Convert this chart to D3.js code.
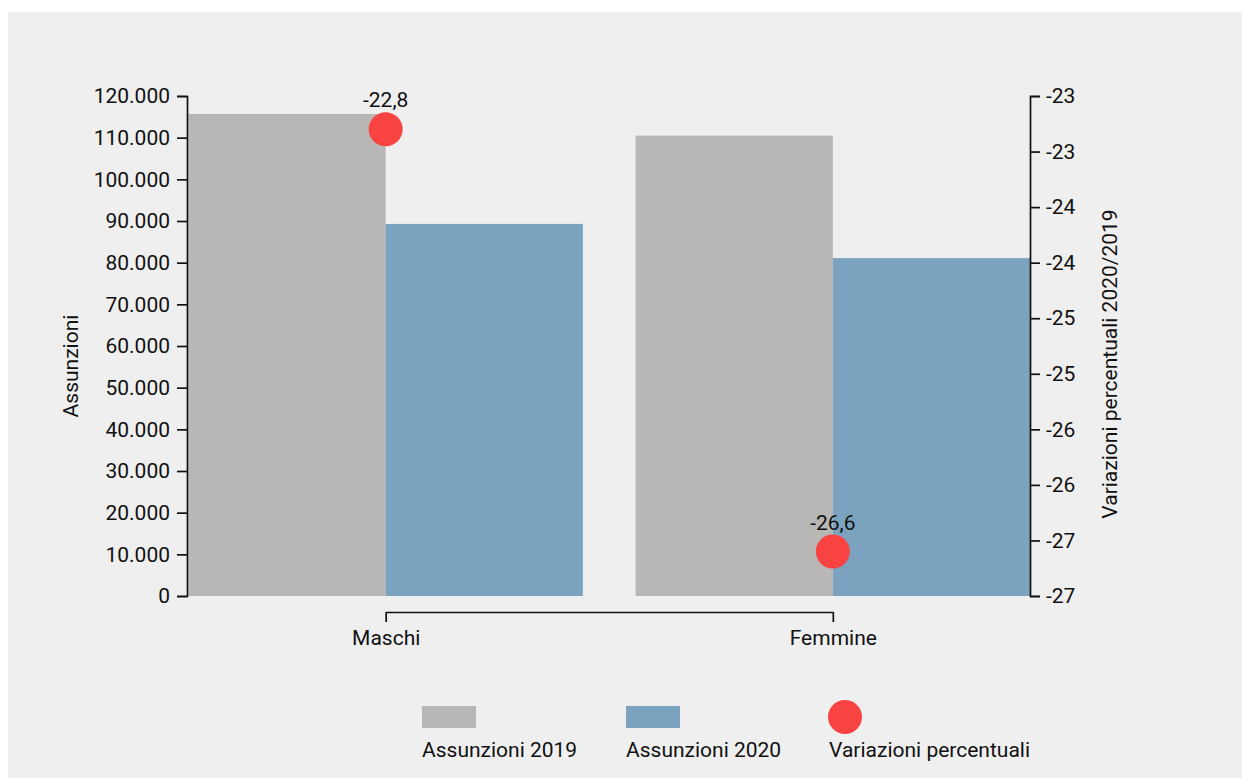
<!DOCTYPE html>
<html>
<head>
<meta charset="utf-8">
<script src="https://cdn.jsdelivr.net/npm/d3@7"></script>
<style>
  html, body { margin: 0; padding: 0; background: #ffffff; }
  svg { display: block; font-family: Roboto, "Noto Sans", sans-serif; }
</style>
</head>
<body>
<svg id="chart" width="1242" height="778"></svg>
<script>
// Assunzioni per genere, 2019 e 2020, con variazione percentuale
const categories = ["Maschi", "Femmine"];
const assunzioni2019 = [115700, 110500];
const assunzioni2020 = [89300, 81100];
const variazioni = [-22.8, -26.6];
const seriesNames = ["Assunzioni 2019", "Assunzioni 2020", "Variazioni percentuali"];
const leftTicks = d3.range(0, 120001, 10000);
const rightTicks = d3.range(-27, -22.49, 0.5);

const colors = { y2019: "#b8b7b5", y2020: "#7ba3bf", dot: "#f94343", bg: "#efefef", ink: "#111111" };
const FONT = 21;
const STROKE = 1.7;

const svg = d3.select("#chart");

// panel background
svg.append("rect").attr("x", 8).attr("y", 12).attr("width", 1234).attr("height", 766).attr("fill", colors.bg);

const plot = { left: 187, right: 1030, top: 96, bottom: 596 };

const x = d3.scaleBand().domain(categories).range([188.5, plot.right]).paddingInner(0.118).paddingOuter(0);
const xSeries = d3.scaleBand().domain(["2019", "2020"]).range([0, x.bandwidth()]);
const y = d3.scaleLinear().domain([0, 120000]).range([plot.bottom, plot.top]);
const y2 = d3.scaleLinear().domain([-27, -22.5]).range([plot.bottom, plot.top]);

const itFmt = d3.formatLocale({ decimal: ",", thousands: ".", grouping: [3], currency: ["", "€"], minus: "-" });
const fmtThousands = itFmt.format(",.0f");
const fmtInt = itFmt.format(".0f");
const fmtOne = itFmt.format(".1f");

// bars
const rows = categories.map((c, i) => ({ cat: c, v2019: assunzioni2019[i], v2020: assunzioni2020[i], pct: variazioni[i] }));
const bars = svg.append("g");
rows.forEach(r => {
  bars.append("rect")
    .attr("x", x(r.cat) + xSeries("2019"))
    .attr("y", y(r.v2019))
    .attr("width", xSeries.bandwidth())
    .attr("height", y(0) - y(r.v2019))
    .attr("fill", colors.y2019);
  bars.append("rect")
    .attr("x", x(r.cat) + xSeries("2020"))
    .attr("y", y(r.v2020))
    .attr("width", xSeries.bandwidth())
    .attr("height", y(0) - y(r.v2020))
    .attr("fill", colors.y2020);
});

function styleAxis(g) {
  g.selectAll("path, line").attr("stroke", colors.ink).attr("stroke-width", STROKE);
  g.selectAll("text").attr("font-size", FONT).attr("font-family", "Roboto, sans-serif").attr("fill", colors.ink);
}

// left axis
svg.append("g")
  .attr("transform", `translate(${plot.left},0)`)
  .call(d3.axisLeft(y).tickValues(leftTicks).tickFormat(fmtThousands).tickSize(10).tickPadding(7))
  .call(styleAxis);

// right axis
svg.append("g")
  .attr("transform", `translate(${plot.right},0)`)
  .call(d3.axisRight(y2).tickValues(rightTicks).tickFormat(fmtInt).tickSize(10).tickPadding(6))
  .call(styleAxis);

// bottom category axis: spans the category centers
const xPoint = d3.scalePoint().domain(categories).range([x("Maschi") + x.bandwidth() / 2, x("Femmine") + x.bandwidth() / 2]);
svg.append("g")
  .attr("transform", `translate(0,612)`)
  .call(d3.axisBottom(xPoint).tickSize(10).tickSizeOuter(0).tickPadding(8))
  .call(styleAxis);

// percentage dots with labels
const dots = svg.append("g");
rows.forEach(r => {
  const cx = x(r.cat) + x.bandwidth() / 2;
  const cy = y2(r.pct);
  dots.append("circle").attr("cx", cx).attr("cy", cy).attr("r", 17).attr("fill", colors.dot);
  dots.append("text").attr("x", cx).attr("y", cy - 22)
    .attr("text-anchor", "middle").attr("font-size", FONT).attr("fill", colors.ink)
    .text(fmtOne(r.pct));
});

// axis titles
svg.append("text")
  .attr("transform", `translate(78,366) rotate(-90)`)
  .attr("text-anchor", "middle").attr("font-size", FONT).attr("fill", colors.ink)
  .text("Assunzioni");
svg.append("text")
  .attr("transform", `translate(1117,364) rotate(-90)`)
  .attr("text-anchor", "middle").attr("font-size", FONT).attr("fill", colors.ink)
  .text("Variazioni percentuali 2020/2019");

// legend
const legend = svg.append("g");
const legendX = [422, 626, 829];
legend.append("rect").attr("x", legendX[0]).attr("y", 706).attr("width", 54).attr("height", 22).attr("fill", colors.y2019);
legend.append("rect").attr("x", legendX[1]).attr("y", 706).attr("width", 54).attr("height", 22).attr("fill", colors.y2020);
legend.append("circle").attr("cx", legendX[2] + 16).attr("cy", 717).attr("r", 17).attr("fill", colors.dot);
seriesNames.forEach((name, i) => {
  legend.append("text").attr("x", legendX[i]).attr("y", 757)
    .attr("font-size", FONT).attr("fill", colors.ink).text(name);
});
</script>
</body>
</html>
